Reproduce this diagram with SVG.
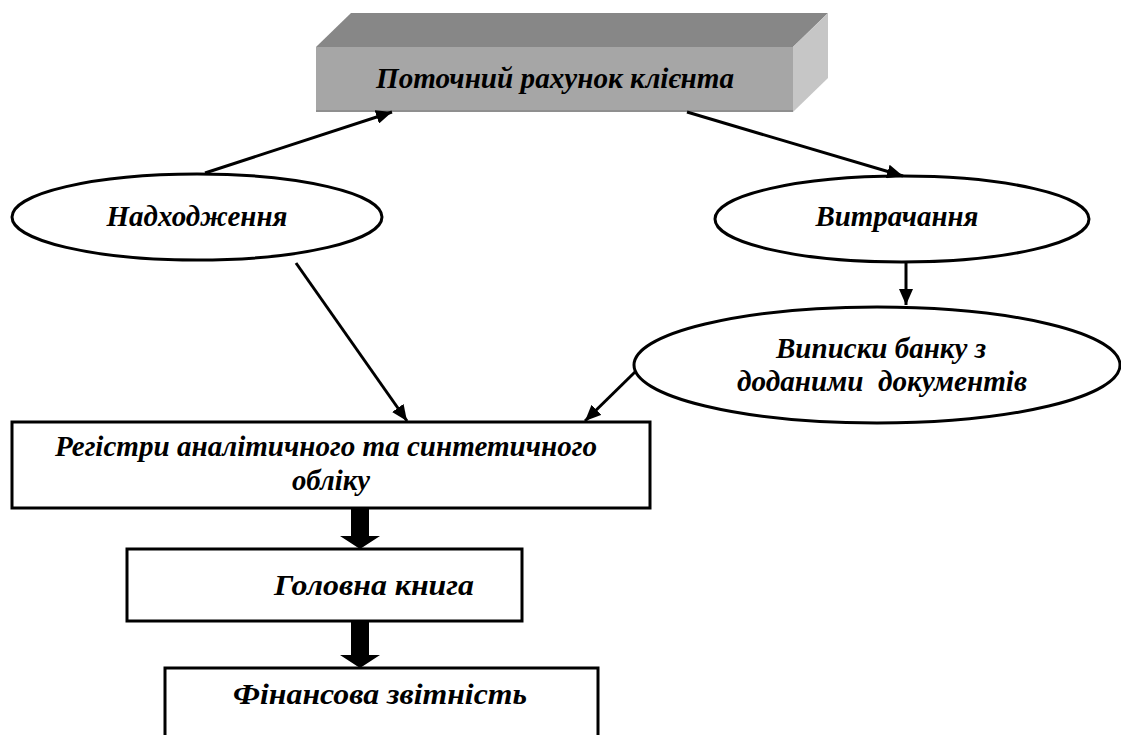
<svg xmlns="http://www.w3.org/2000/svg" width="1121" height="735" viewBox="0 0 1121 735">
  <defs>
    <marker id="ah" markerUnits="userSpaceOnUse" markerWidth="18" markerHeight="14" refX="16" refY="7" orient="auto">
      <path d="M0,0 L16,7 L0,14 z" fill="#000"/>
    </marker>
    <style>
      .t { font-family: "Liberation Serif", "DejaVu Serif", serif; font-weight: bold; font-style: italic; font-size: 29px; fill: #000; }
      .box { fill: #fff; stroke: #000; stroke-width: 3; }
      .ell { fill: #fff; stroke: #000; stroke-width: 3; }
      .ln { stroke: #000; stroke-width: 3; fill: none; marker-end: url(#ah); }
      .fat { fill: #000; }
    </style>
  </defs>
  <rect width="1121" height="735" fill="#fff"/>

  <g id="account">
    <polygon points="316,47 351,13 828,13 793,47" fill="#878787"/>
    <polygon points="793,47 828,13 828,78 793,112" fill="#c6c6c6"/>
    <rect x="316" y="47" width="477" height="65" fill="#a6a6a6"/>
    <line x1="316" y1="111" x2="793" y2="111" stroke="#8f8f8f" stroke-width="2"/>
    <text class="t" x="555" y="88" text-anchor="middle" textLength="358" lengthAdjust="spacingAndGlyphs">Поточний рахунок клієнта</text>
  </g>

  <g id="income">
    <ellipse class="ell" cx="197" cy="217" rx="185" ry="43"/>
    <text class="t" x="197" y="226" text-anchor="middle" textLength="181" lengthAdjust="spacingAndGlyphs">Надходження</text>
  </g>

  <g id="spending">
    <ellipse class="ell" cx="902" cy="219" rx="187" ry="43"/>
    <text class="t" x="897" y="226" text-anchor="middle" textLength="163" lengthAdjust="spacingAndGlyphs">Витрачання</text>
  </g>

  <g id="statements">
    <ellipse class="ell" cx="877" cy="365" rx="243" ry="58"/>
    <text class="t" x="881" y="358" text-anchor="middle" textLength="210" lengthAdjust="spacingAndGlyphs">Виписки банку з</text>
    <text class="t" x="882" y="391" text-anchor="middle" textLength="290" lengthAdjust="spacingAndGlyphs" xml:space="preserve">доданими  документів</text>
  </g>

  <g id="registers">
    <rect class="box" x="12" y="422" width="638" height="86"/>
    <text class="t" x="326" y="456" text-anchor="middle" textLength="542" lengthAdjust="spacingAndGlyphs">Регістри аналітичного та синтетичного</text>
    <text class="t" x="331" y="490" text-anchor="middle" textLength="78" lengthAdjust="spacingAndGlyphs">обліку</text>
  </g>

  <g id="ledger">
    <rect class="box" x="127" y="549" width="395" height="72"/>
    <text class="t" x="374" y="595" text-anchor="middle" textLength="200" lengthAdjust="spacingAndGlyphs">Головна книга</text>
  </g>

  <g id="reports">
    <rect class="box" x="165" y="668" width="433" height="80"/>
    <text class="t" x="380" y="704" text-anchor="middle" textLength="294" lengthAdjust="spacingAndGlyphs">Фінансова звітність</text>
  </g>

  <g id="connectors">
    <line class="ln" x1="205" y1="173" x2="392" y2="112"/>
    <line class="ln" x1="687" y1="112" x2="903" y2="176"/>
    <line class="ln" x1="906" y1="262" x2="906" y2="305"/>
    <line class="ln" x1="296" y1="263" x2="407" y2="421"/>
    <line class="ln" x1="635" y1="372" x2="585" y2="421"/>
    <polygon class="fat" points="351,509 369,509 369,536 380,536 360,549 340,536 351,536"/>
    <polygon class="fat" points="351,622 369,622 369,655 380,655 360,668 340,655 351,655"/>
  </g>
</svg>
